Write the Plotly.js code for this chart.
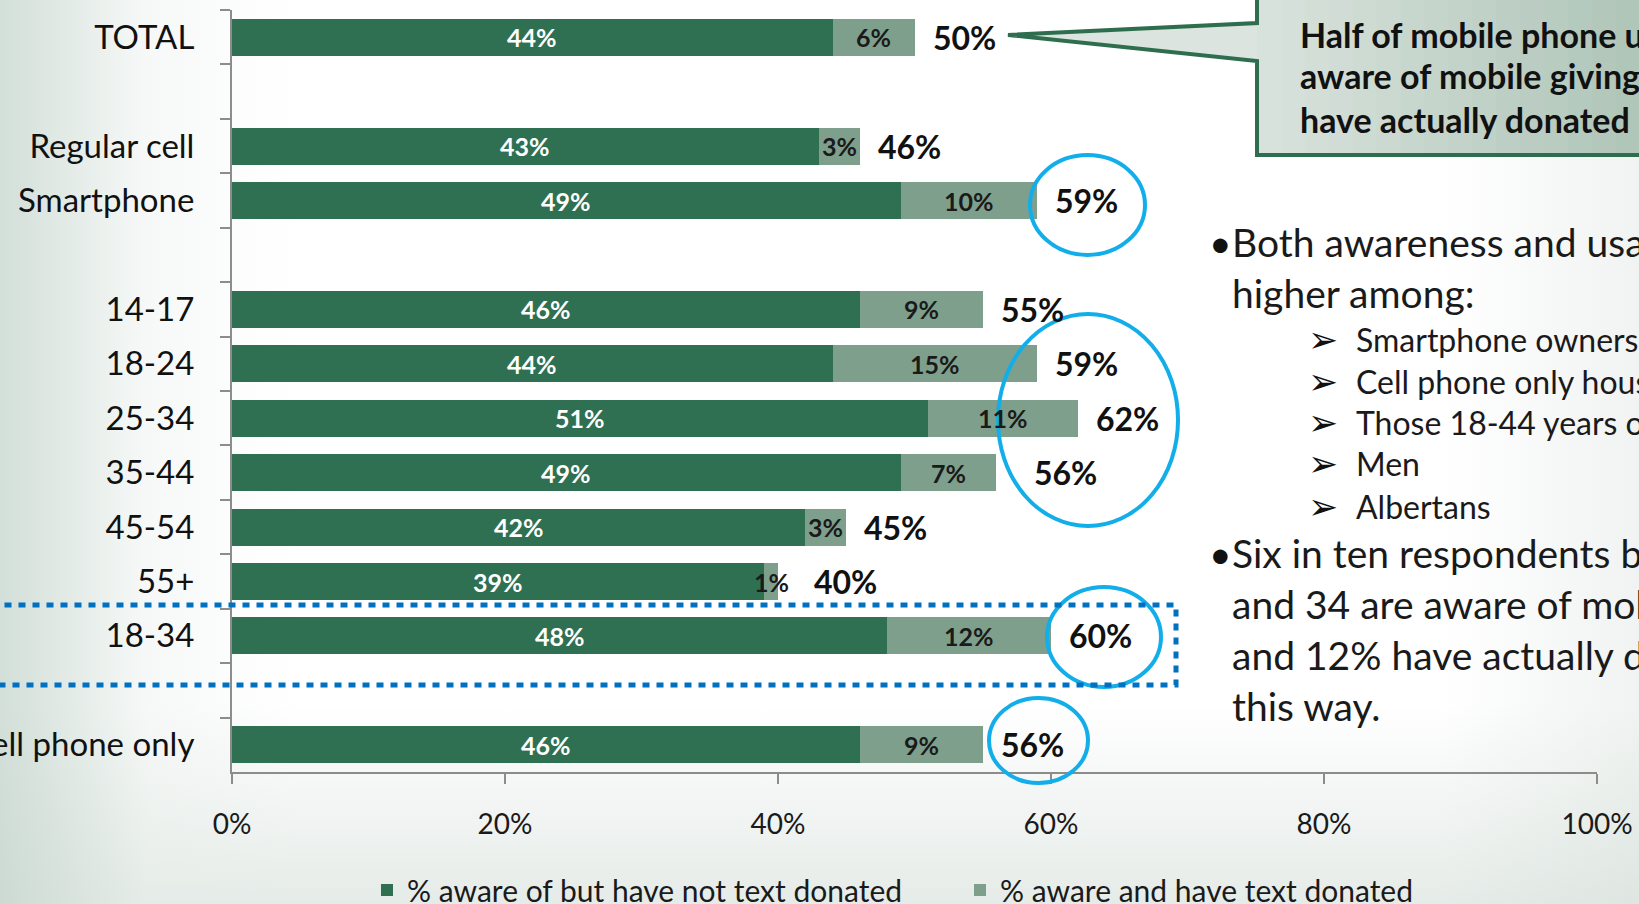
<!DOCTYPE html>
<html>
<head>
<meta charset="utf-8">
<script src="https://cdn.plot.ly/plotly-3.0.1.min.js"></script>
<style>
  html, body { margin: 0; padding: 0; overflow: hidden; }
  body {
    width: 1639px; height: 904px;
    background:
      linear-gradient(to right, rgba(196,212,204,0.75) 0%, rgba(230,237,233,0.35) 9%, rgba(255,255,255,0) 18%),
      linear-gradient(to top, rgba(208,219,213,0.55) 0%, rgba(255,255,255,0) 22%),
      linear-gradient(to left, rgba(225,232,228,0.5) 0%, rgba(255,255,255,0) 12%),
      #ffffff;
  }
  #chart { width: 1639px; height: 904px; }
</style>
</head>
<body>
<div id="chart"></div>
<script>
// ---------------- data ----------------
const categories = ['TOTAL', 'Regular cell', 'Smartphone', '14-17', '18-24', '25-34', '35-44', '45-54', '55+', '18-34', 'Cell phone only'];
const notDonated = [44, 43, 49, 46, 44, 51, 49, 42, 39, 48, 46];
const donated    = [6, 3, 10, 9, 15, 11, 7, 3, 1, 12, 9];
const totals     = [50, 46, 59, 55, 59, 62, 56, 45, 40, 60, 56];
// axis order incl. blank spacer rows (tick labels)
const axisOrder = ['TOTAL', ' ', 'Regular cell', 'Smartphone', '  ', '14-17', '18-24', '25-34', '35-44', '45-54', '55+', '18-34', '   ', 'Cell phone only'];
const xTickVals = [0, 20, 40, 60, 80, 100];
const xTickText = ['0%', '20%', '40%', '60%', '80%', '100%'];
const seriesNames = ['% aware of but have not text donated', '% aware and have text donated'];

const calloutLines = ['Half of mobile phone users are', 'aware of mobile giving; 6%', 'have actually donated'];
const bullet1 = ['Both awareness and usage are', 'higher among:'];
const subBullets = ['Smartphone owners', 'Cell phone only households', 'Those 18-44 years old', 'Men', 'Albertans'];
const bullet2 = ['Six in ten respondents between 18', 'and 34 are aware of mobile giving', 'and 12% have actually donated', 'this way.'];

// ---------------- styles ----------------
const DARK = '#2F7052';
const LIGHT = '#7E9F8C';
const FONT = 'Lato, "Open Sans", sans-serif';
const extraShift = { '35-44': 20, '55+': 18 };

// helpers: reference-pixel -> paper coordinates (plot area 232..1597 x, 10..772 y)
const PL = 232, PR = 1597, PT = 10, PB = 772;
const px = v => (v - PL) / (PR - PL);
const py = v => (PB - v) / (PB - PT);

const traces = [
  { type: 'bar', orientation: 'h', name: seriesNames[0], y: categories, x: notDonated,
    marker: { color: DARK }, width: 0.68, hoverinfo: 'skip' },
  { type: 'bar', orientation: 'h', name: seriesNames[1], y: categories, x: donated,
    marker: { color: LIGHT }, width: 0.68, hoverinfo: 'skip' }
];

const annotations = [];
categories.forEach((c, i) => {
  annotations.push({
    xref: 'x', yref: 'y', x: notDonated[i] / 2, y: c, text: '<b>' + notDonated[i] + '%</b>',
    showarrow: false, xanchor: 'center', yanchor: 'middle', font: { family: FONT, size: 25, color: '#ffffff' }
  });
  annotations.push({
    xref: 'x', yref: 'y', x: notDonated[i] + donated[i] / 2, y: c, text: '<b>' + donated[i] + '%</b>',
    showarrow: false, xanchor: 'center', yanchor: 'middle', font: { family: FONT, size: 25, color: '#1a1a1a' }
  });
  annotations.push({
    xref: 'x', yref: 'y', x: notDonated[i] + donated[i], y: c,
    text: '<b>' + totals[i] + '%</b>', showarrow: false, xanchor: 'left', yanchor: 'middle',
    xshift: 16 + (extraShift[c] || 0), font: { family: FONT, size: 32, color: '#111111' }
  });
});

// callout text
const calloutY = [34, 76, 119];
calloutLines.forEach((t, i) => annotations.push({
  xref: 'paper', yref: 'paper', x: px(1298), y: py(calloutY[i]), xanchor: 'left', yanchor: 'middle',
  text: '<b>' + t + '</b>', showarrow: false, font: { family: FONT, size: 34, color: '#111111' }
}));

// bullet text
const b1Y = [242, 293];
bullet1.forEach((t, i) => annotations.push({
  xref: 'paper', yref: 'paper', x: px(1230), y: py(b1Y[i]), xanchor: 'left', yanchor: 'middle',
  text: t, showarrow: false, font: { family: FONT, size: 39, color: '#1a1a1a' }
}));
const subY = [339, 381, 422, 463, 506];
subBullets.forEach((t, i) => {
  annotations.push({
    xref: 'paper', yref: 'paper', x: px(1354), y: py(subY[i]), xanchor: 'left', yanchor: 'middle',
    text: t, showarrow: false, font: { family: FONT, size: 32, color: '#1a1a1a' }
  });
  annotations.push({
    xref: 'paper', yref: 'paper', x: px(1306), y: py(subY[i]), xanchor: 'left', yanchor: 'middle',
    text: '\u27A2', showarrow: false, font: { family: '"DejaVu Sans", sans-serif', size: 36, color: '#111111' }
  });
});
const b2Y = [553, 604, 655, 706];
bullet2.forEach((t, i) => annotations.push({
  xref: 'paper', yref: 'paper', x: px(1230), y: py(b2Y[i]), xanchor: 'left', yanchor: 'middle',
  text: t, showarrow: false, font: { family: FONT, size: 39, color: '#1a1a1a' }
}));
[b1Y[0], b2Y[0]].forEach(yy => annotations.push({
  xref: 'paper', yref: 'paper', x: px(1207), y: py(yy), xanchor: 'left', yanchor: 'middle',
  text: '\u2022', showarrow: false, font: { family: FONT, size: 39, color: '#111111' }
}));

// shapes
const shapes = [];
const calloutPath = (pts) => 'M' + pts.map(p => px(p[0]) + ',' + py(p[1])).join(' L') + ' Z';
const cPts = [[1257, -20], [1720, -20], [1720, 155], [1257, 155], [1257, 61], [1008, 35], [1257, 23]];
shapes.push({ type: 'path', xref: 'paper', yref: 'paper', path: calloutPath(cPts), fillcolor: '#dbe4de', line: { width: 0 }, layer: 'above' });
const nS = 16, bx0 = 1257, bx1 = 1640;
const c0 = [216, 226, 220], c1 = [176, 198, 185];
for (let k = 0; k < nS; k++) {
  const f = k / (nS - 1);
  const col = 'rgb(' + c0.map((v, j) => Math.round(v + (c1[j] - v) * f)).join(',') + ')';
  shapes.push({ type: 'rect', xref: 'paper', yref: 'paper',
    x0: px(bx0 + (bx1 - bx0) * k / nS), x1: px(bx0 + (bx1 - bx0) * (k + 1) / nS + 1),
    y0: py(-20), y1: py(155), fillcolor: col, line: { width: 0 }, layer: 'above' });
}
shapes.push({ type: 'path', xref: 'paper', yref: 'paper', path: calloutPath(cPts), fillcolor: 'rgba(0,0,0,0)',
  line: { color: '#2E6E4E', width: 4 }, layer: 'above' });

// blue ellipses
const ellipses = [[1030, 155, 1145, 255], [998, 314, 1178, 526], [1047, 587, 1161, 687], [989, 698, 1088, 783]];
ellipses.forEach(e => shapes.push({ type: 'circle', xref: 'paper', yref: 'paper',
  x0: px(e[0]), y0: py(e[1]), x1: px(e[2]), y1: py(e[3]),
  line: { color: '#12AEEA', width: 4 }, fillcolor: 'rgba(0,0,0,0)', layer: 'above' }));

// dotted highlight rectangle
shapes.push({ type: 'rect', xref: 'paper', yref: 'paper', x0: -0.3, x1: px(1176), y0: py(605), y1: py(685),
  line: { color: '#0070C0', width: 5, dash: '7px,7px' }, fillcolor: 'rgba(0,0,0,0)', layer: 'above' });

const layout = {
  width: 1639, height: 904,
  margin: { l: PL, r: 1639 - PR, t: PT, b: 904 - PB, autoexpand: false },
  paper_bgcolor: 'rgba(0,0,0,0)', plot_bgcolor: 'rgba(0,0,0,0)',
  barmode: 'stack',
  showlegend: true,
  legend: { orientation: 'h', x: px(367), xanchor: 'left', y: py(890), yanchor: 'middle',
    font: { family: FONT, size: 30, color: '#1a1a1a' }, entrywidth: 548, entrywidthmode: 'pixels',
    bgcolor: 'rgba(0,0,0,0)', traceorder: 'normal' },
  xaxis: { range: [0, 100], tickvals: xTickVals, ticktext: xTickText, showgrid: false, zeroline: false,
    showline: true, linecolor: '#8c8c8c', linewidth: 2, ticks: 'outside', ticklen: 10, tickwidth: 2,
    tickcolor: '#8c8c8c', ticklabelstandoff: 16, tickfont: { family: FONT, size: 28, color: '#1a1a1a' }, fixedrange: true },
  yaxis: { type: 'category', categoryorder: 'array', categoryarray: axisOrder, range: [13.5, -0.5],
    showgrid: false, zeroline: false, showline: true, linecolor: '#8c8c8c', linewidth: 2,
    ticks: 'outside', ticklen: 10, tickwidth: 2, tickcolor: '#8c8c8c', tickson: 'boundaries',
    ticklabelstandoff: 29, tickfont: { family: FONT, size: 33, color: '#111111' }, fixedrange: true },
  annotations: annotations,
  shapes: shapes
};

Plotly.newPlot('chart', traces, layout, { displayModeBar: false, staticPlot: true });
</script>
</body>
</html>
